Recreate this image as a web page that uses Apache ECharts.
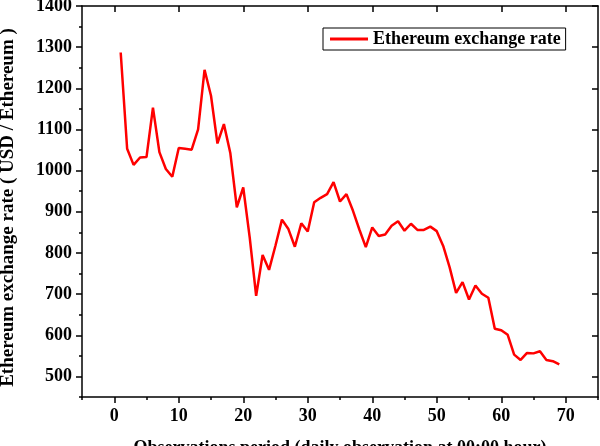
<!DOCTYPE html>
<html>
<head>
<meta charset="utf-8">
<script src="https://cdn.jsdelivr.net/npm/echarts@6/dist/echarts.min.js"></script>
<style>
  html, body { margin: 0; padding: 0; background: #fff; }
  #chart { width: 600px; height: 446px; }
</style>
</head>
<body>
<div id="chart"></div>
<script>
// Observation day (daily at 00:00) and the Ethereum rate in USD
const obsDays = [1, 2, 3, 4, 5, 6, 7, 8, 9, 10, 11, 12, 13, 14, 15, 16, 17, 18, 19, 20,
    21, 22, 23, 24, 25, 26, 27, 28, 29, 30, 31, 32, 33, 34, 35, 36, 37, 38, 39, 40,
    41, 42, 43, 44, 45, 46, 47, 48, 49, 50, 51, 52, 53, 54, 55, 56, 57, 58, 59, 60,
    61, 62, 63, 64, 65, 66, 67, 68, 69];
const ethRate = [1287, 1053, 1014, 1032, 1033, 1153, 1045, 1004, 985, 1055,
    1053, 1051, 1100, 1245, 1182, 1066, 1113, 1042, 911, 959,
    838, 696, 795, 759, 818, 881, 858, 815, 872, 852,
    923, 934, 943, 972, 925, 943, 903, 857, 814, 862,
    841, 845, 866, 877, 854, 871, 856, 856, 864, 853,
    817, 765, 703, 729, 687, 721, 701, 691, 616, 612,
    601, 553, 540, 557, 556, 561, 540, 537, 529];

// axis tick positions
const xMajorTicks = [0, 10, 20, 30, 40, 50, 60, 70];
const xMinorTicks = [-5, 5, 15, 25, 35, 45, 55, 65, 75];
const yMajorTicks = [500, 600, 700, 800, 900, 1000, 1100, 1200, 1300, 1400];
const yMinorTicks = [450, 550, 650, 750, 850, 950, 1050, 1150, 1250, 1350];

const font = 'Liberation Serif';
const axisColor = '#000';

const lineStyle = { color: axisColor, width: 1.5 };
const labelStyle = { color: '#000', fontFamily: font, fontWeight: 'bold', fontSize: 18 };

const chart = echarts.init(document.getElementById('chart'));

const baseX = { type: 'value', min: -5, max: 75, splitLine: { show: false } };
const baseY = { type: 'value', min: 450, max: 1400, splitLine: { show: false } };
const plainNum = v => String(v);

const option = {
    backgroundColor: '#fff',
    animation: false,
    grid: { left: 82, right: 2, top: 6, bottom: 49, containLabel: false, outerBoundsMode: 'none' },
    legend: {
        data: [{ name: 'Ethereum exchange rate', icon: 'rect' }],
        left: 323,
        top: 28,
        padding: [2, 5, 2, 7],
        itemWidth: 38,
        itemHeight: 3,
        itemGap: 5,
        borderColor: '#000',
        borderWidth: 1,
        textStyle: { color: '#000', fontFamily: font, fontWeight: 'bold', fontSize: 18 }
    },
    xAxis: [
        {
            ...baseX,
            position: 'bottom',
            name: 'Observations period (daily observation at 00:00 hour)',
            nameLocation: 'middle',
            nameGap: 42,
            nameTextStyle: labelStyle,
            axisLine: { show: true, onZero: false, lineStyle },
            axisTick: { show: true, inside: false, length: 6, customValues: xMajorTicks, lineStyle },
            axisLabel: { ...labelStyle, margin: 10, customValues: xMajorTicks, formatter: plainNum }
        },
        {
            ...baseX,
            position: 'bottom',
            axisLine: { show: false, onZero: false },
            axisTick: { show: true, inside: false, length: 3, customValues: xMinorTicks, lineStyle },
            axisLabel: { show: false }
        },
        {
            ...baseX,
            position: 'top',
            axisLine: { show: true, onZero: false, lineStyle },
            axisTick: { show: true, inside: true, length: 6, customValues: xMajorTicks, lineStyle },
            axisLabel: { show: false }
        }
    ],
    yAxis: [
        {
            ...baseY,
            position: 'left',
            name: 'Ethereum exchange rate ( USD / Ethereum )',
            nameLocation: 'middle',
            nameGap: 64,
            nameTextStyle: { ...labelStyle, fontSize: 19, padding: [0, 12, 0, 0] },
            axisLine: { show: true, onZero: false, lineStyle },
            axisTick: { show: true, inside: false, length: 6, customValues: yMajorTicks, lineStyle },
            axisLabel: { ...labelStyle, margin: 10, customValues: yMajorTicks, formatter: plainNum }
        },
        {
            ...baseY,
            position: 'left',
            axisLine: { show: false, onZero: false },
            axisTick: { show: true, inside: false, length: 3, customValues: yMinorTicks, lineStyle },
            axisLabel: { show: false }
        },
        {
            ...baseY,
            position: 'right',
            axisLine: { show: true, onZero: false, lineStyle },
            axisTick: { show: true, inside: true, length: 6, customValues: yMajorTicks, lineStyle },
            axisLabel: { show: false }
        }
    ],
    series: [
        {
            name: 'Ethereum exchange rate',
            type: 'line',
            xAxisIndex: 0,
            yAxisIndex: 0,
            symbol: 'none',
            showSymbol: false,
            lineStyle: { color: '#ff0000', width: 2.5 },
            itemStyle: { color: '#ff0000' },
            data: obsDays.map((d, i) => [d, ethRate[i]])
        }
    ]
};

chart.setOption(option);
</script>
</body>
</html>
